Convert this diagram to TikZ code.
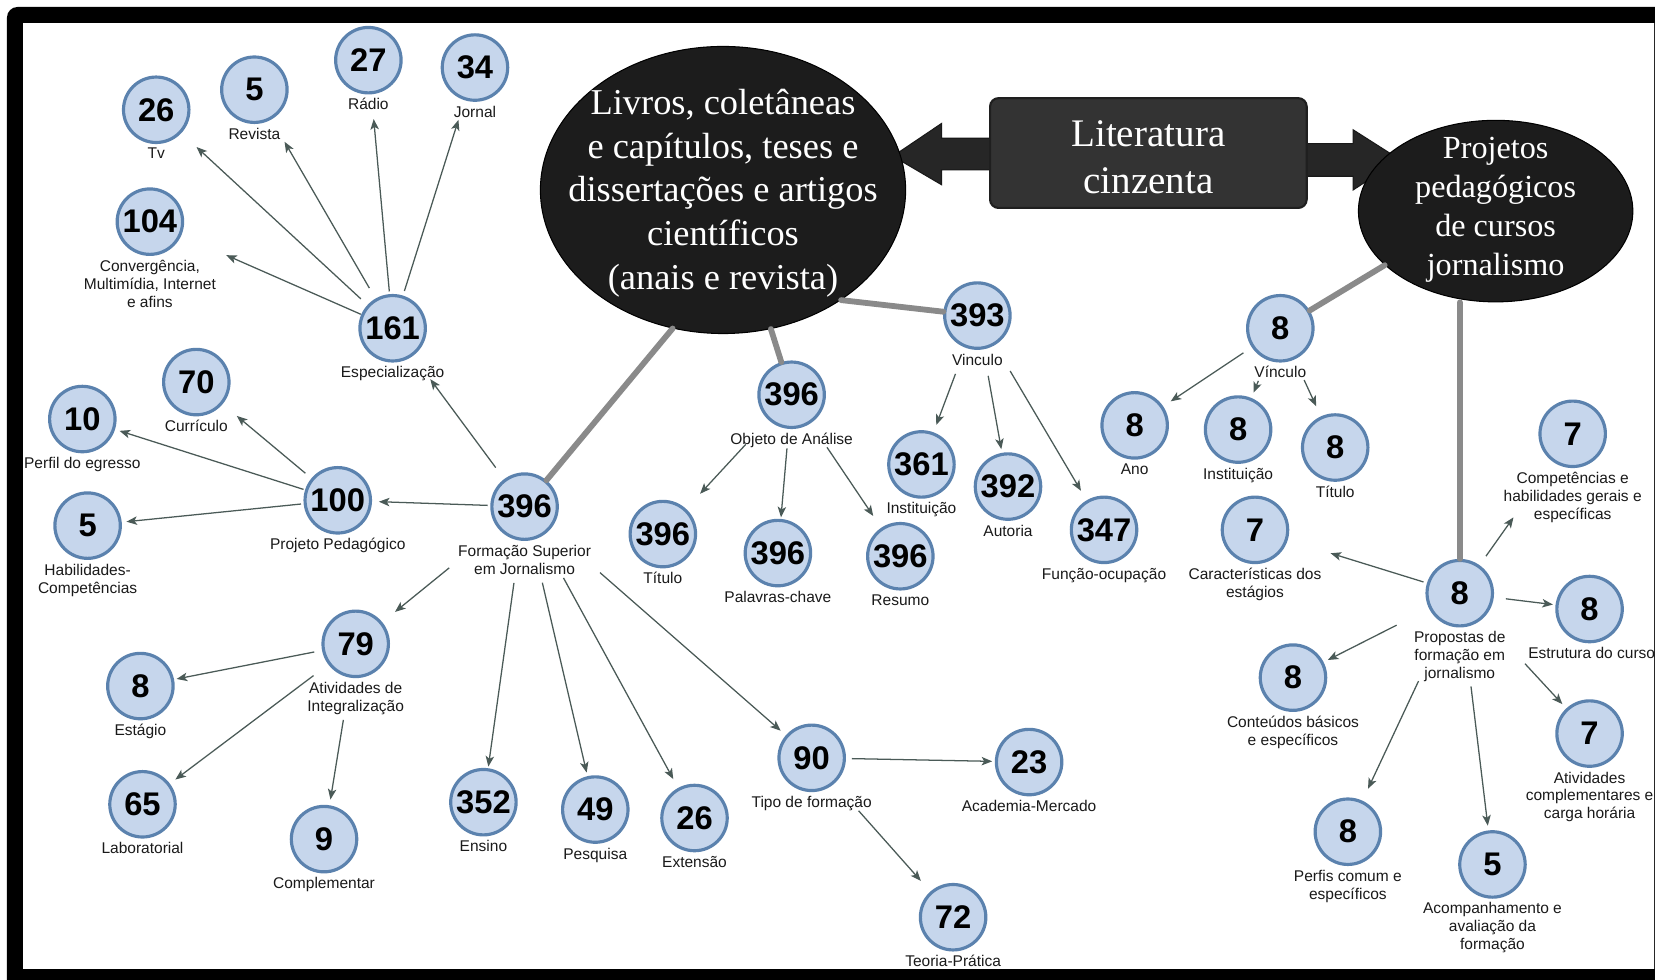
\documentclass[tikz,border=0pt]{standalone}
\usepackage{fontspec}
\setmainfont{Liberation Serif}
\newfontfamily\sansf{Liberation Sans}
\usetikzlibrary{arrows.meta,shapes.geometric,calc}
\definecolor{cfill}{HTML}{C6D6EC}
\definecolor{cborder}{HTML}{5B82AE}
\definecolor{arrc}{HTML}{4A5A57}
\definecolor{glink}{HTML}{8A8A8A}
\definecolor{blob}{HTML}{1C1C1C}
\definecolor{boxc}{HTML}{333333}
\definecolor{fatc}{HTML}{262626}
\definecolor{labc}{HTML}{1A1A1A}
\newcommand{\bub}[5]{%
  \node[num] (#1) at (#2,#3) {#4};
  \node[lab] (#1l) at ([yshift=-36pt]#1.center) {#5};}
\newcommand{\arw}[4]{\draw[arr, shorten <=#3pt, shorten >=#4pt] (#1.center) -- (#2.center);}
\begin{document}
\begin{tikzpicture}[x=1pt,y=-1pt,
  num/.style={circle,draw=cborder,fill=cfill,line width=3pt,minimum size=62pt,inner sep=0pt,text=black,font=\sansf\bfseries\fontsize{31}{31}\selectfont},
  lab/.style={anchor=north,inner sep=0pt,align=center,text=labc,font=\sansf\fontsize{14.7}{17}\selectfont},
  arr/.style={draw=arrc,line width=1.2pt,-{Stealth[length=10pt,width=8pt,inset=2.5pt]}},
  glk/.style={draw=glink,line width=5.5pt,line cap=round},
  blobsh/.style={ellipse,fill=blob,draw=black,line width=1pt,inner sep=0pt},
  blobtxt/.style={text=white,align=center,inner sep=0pt},
  fatarrow/.style={fill=fatc,draw=black!90,line width=1pt,line join=miter}]

\useasboundingbox (0,0) rectangle (1568,928);
\clip (0,0) rectangle (1568,928);
\fill[white] (0,0) rectangle (1568,928);
\fill[black,rounded corners=10pt] (6.6,6.6) rectangle (1640,990);
\fill[white] (21.8,21.8) rectangle (1566.6,918);
\draw[black!85,line width=1.2pt] (1567.4,21.8) -- (1567.4,918);

% fat arrows
\draw[fatarrow] (942,131) -- (892,131) -- (892,117) -- (846,148) -- (892,175) -- (892,161) -- (942,161) -- cycle;
\draw[fatarrow] (1234,136) -- (1282,136) -- (1282,123) -- (1326,151) -- (1282,180) -- (1282,167) -- (1234,167) -- cycle;

% box
\node[draw=black!88,fill=boxc,line width=2pt,rounded corners=8pt,minimum width=300pt,minimum height=104pt] (lit) at (1088,145) {};
\node[text=white,align=center,inner sep=0pt,font=\fontsize{37}{44}\selectfont] (litt) at ([yshift=-4pt]lit.center) {Literatura\\cinzenta};

% ellipses
\node[blobsh,minimum width=346pt,minimum height=272pt] (e1) at (685,180) {};
\node[blobtxt,font=\fontsize{34.5}{41.5}\selectfont] (e1t) at ([yshift=-3pt]e1.center) {Livros, coletâneas\\e capítulos, teses e\\dissertações e artigos\\científicos\\(anais e revista)};
\node[blobsh,minimum width=260pt,minimum height=172pt] (e2) at (1417,200) {};
\node[blobtxt,font=\fontsize{30.5}{37}\selectfont] (e2t) at ([yshift=1pt]e2.center) {Projetos\\pedagógicos\\de cursos\\jornalismo};

% bubbles
\bub{tv}{148}{104}{26}{Tv}
\bub{rev}{241}{85}{5}{Revista}
\bub{rad}{349}{57}{27}{Rádio}
\bub{jor}{450}{64}{34}{Jornal}
\bub{conv}{142}{210}{104}{Convergência,\\Multimídia, Internet\\e afins}
\bub{esp}{372}{311}{161}{Especialização}
\bub{cur}{186}{362}{70}{Currículo}
\bub{per}{78}{397}{10}{Perfil do egresso}
\bub{pp}{320}{474}{100}{Projeto Pedagógico}
\bub{hab}{83}{498}{5}{Habilidades-\\Competências}
\bub{fsj}{497}{480}{396}{Formação Superior\\em Jornalismo}
\bub{ati}{337}{610}{79}{Atividades de\\Integralização}
\bub{est}{133}{650}{8}{Estágio}
\bub{lbt}{135}{762}{65}{Laboratorial}
\bub{cpl}{307}{795}{9}{Complementar}
\bub{ens}{458}{760}{352}{Ensino}
\bub{pes}{564}{767}{49}{Pesquisa}
\bub{ext}{658}{775}{26}{Extensão}
\bub{tip}{769}{718}{90}{Tipo de formação}
\bub{acm}{975}{722}{23}{Academia-Mercado}
\bub{tp}{903}{869}{72}{Teoria-Prática}
\bub{obj}{750}{374}{396}{Objeto de Análise}
\bub{tit}{628}{506}{396}{Título}
\bub{pal}{737}{524}{396}{Palavras-chave}
\bub{res}{853}{527}{396}{Resumo}
\bub{vin}{926}{299}{393}{Vinculo}
\bub{ins}{873}{440}{361}{Instituição}
\bub{aut}{955}{461}{392}{Autoria}
\bub{fun}{1046}{502}{347}{Função-ocupação}
\bub{vr}{1213}{311}{8}{Vínculo}
\bub{ano}{1075}{403}{8}{Ano}
\bub{insr}{1173}{407}{8}{Instituição}
\bub{titr}{1265}{424}{8}{Título}
\bub{car}{1189}{502}{7}{Características dos\\estágios}
\bub{prop}{1383}{562}{8}{Propostas de\\formação em\\jornalismo}
\bub{cmp}{1490}{411}{7}{Competências e\\habilidades gerais e\\específicas}
\bub{estr}{1506}{577}{8}{\hspace*{4pt}Estrutura do curso}
\bub{cont}{1225}{642}{8}{Conteúdos básicos\\e específicos}
\bub{ativ}{1506}{695}{7}{Atividades\\complementares e\\carga horária}
\bub{perf}{1277}{788}{8}{Perfis comum e\\específicos}
\bub{acom}{1414}{819}{5}{Acompanhamento e\\avaliação da\\formação}

% gray links
\draw[glk] (e1.250) -- (fsj);
\draw[glk] (e1.289) -- (obj);
\draw[glk] (e1.317) -- (vin);
\draw[glk] (e2.206) -- (vr);
\draw[glk] (e2.south -| prop) -- (prop);

% arrows
\arw{esp}{tv}{41}{52}
\arw{esp}{rev}{44}{57}
\arw{esp}{rad}{35}{56}
\arw{esp}{jor}{37}{52}
\arw{esp}{conv}{33}{79}
\arw{fsj}{esp}{46}{60}
\arw{fsj}{pp}{35}{39}
\arw{fsj}{ati}{92}{48}
\arw{fsj}{ens}{73}{34}
\arw{fsj}{pes}{74}{36}
\arw{fsj}{ext}{77}{42}
\arw{fsj}{tip}{95}{39}
\arw{pp}{cur}{40}{50}
\arw{pp}{per}{34}{37}
\arw{pp}{hab}{35}{37}
\arw{ati}{est}{40}{35}
\arw{ati}{lbt}{50}{39}
\arw{ati}{cpl}{73}{38}
\arw{tip}{acm}{38}{35}
\arw{tip}{tp}{67}{46}
\arw{obj}{tit}{64}{52}
\arw{obj}{pal}{51}{34}
\arw{obj}{res}{60}{46}
\arw{vin}{ins}{59}{40}
\arw{vin}{aut}{58}{36}
\arw{vin}{fun}{61}{43}
\arw{vr}{ano}{42}{41}
\arw{vr}{insr}{54}{38}
\arw{vr}{titr}{54}{43}
\arw{prop}{car}{36}{75}
\arw{prop}{cmp}{43}{97}
\arw{prop}{estr}{44}{35}
\arw{prop}{cont}{67}{37}
\arw{prop}{ativ}{91}{38}
\arw{prop}{perf}{92}{45}
\arw{prop}{acom}{89}{37}
\end{tikzpicture}
\end{document}
